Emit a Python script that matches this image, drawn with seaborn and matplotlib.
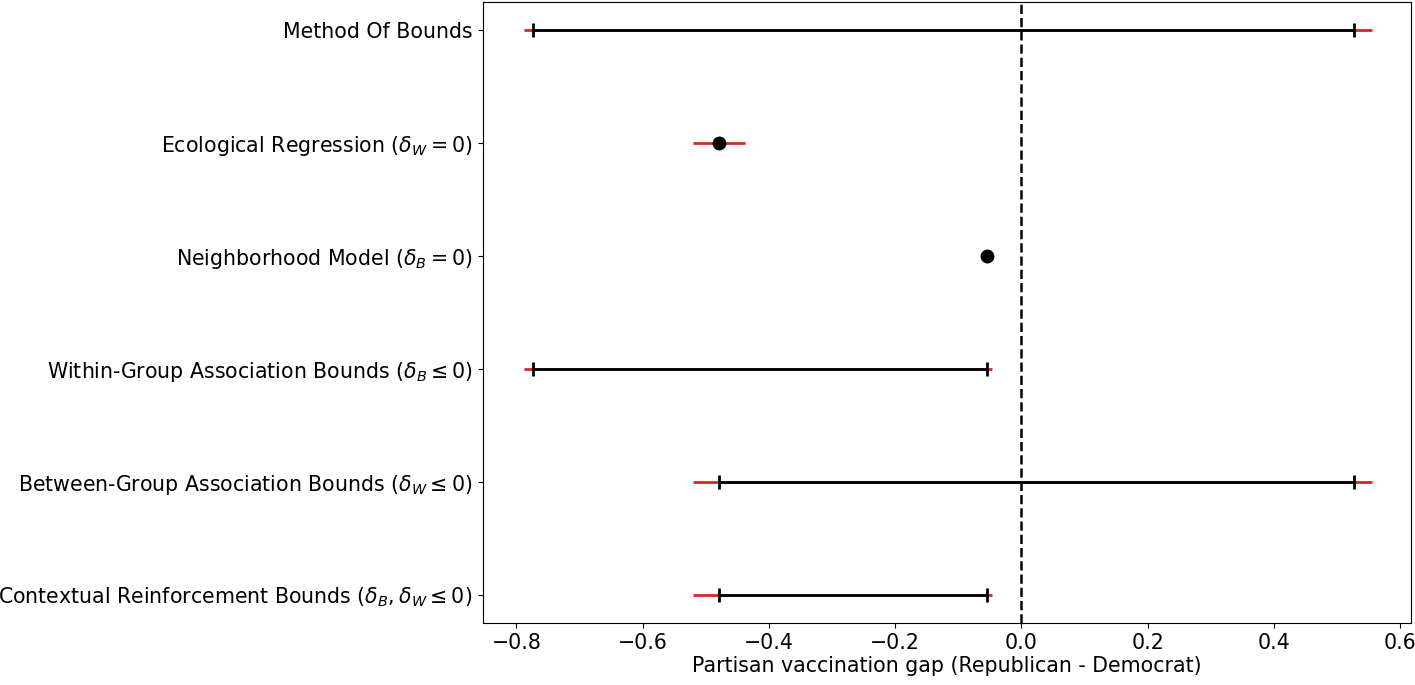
import matplotlib.pyplot as plt
import numpy as np
import pandas as pd
import seaborn as sns

# ── Data ────────────────────────────────────────────────────────────
methods = [
    "Method Of Bounds",
    r"Ecological Regression ($\delta_W = 0$)",
    r"Neighborhood Model ($\delta_B = 0$)",
    r"Within-Group Association Bounds ($\delta_B \leq 0$)",
    r"Between-Group Association Bounds ($\delta_W \leq 0$)",
    r"Contextual Reinforcement Bounds ($\delta_B, \delta_W \leq 0$)",
]
bound_low = [-0.773, np.nan, np.nan, -0.773, -0.479, -0.479]
bound_high = [0.527, np.nan, np.nan, -0.055, 0.527, -0.055]
point_est = [np.nan, -0.479, -0.0554, np.nan, np.nan, np.nan]
ci_low = [-0.788, -0.520, -0.058, -0.788, -0.520, -0.520]
ci_high = [0.555, -0.438, -0.053, -0.047, 0.555, -0.047]

_FS = 14.8

df = pd.DataFrame(
    {
        "method": methods,
        "low": bound_low,
        "high": bound_high,
        "point": point_est,
        "ci_low": ci_low,
        "ci_high": ci_high,
    }
)
df["pos"] = np.arange(len(df))

fig = plt.figure(figsize=(14.15, 6.85), dpi=100)
ax = fig.add_axes([0.3413, 0.0905, 0.6559, 0.9066])

# confidence band around each estimate (red, underneath)
ax.hlines(df["pos"], df["ci_low"], df["ci_high"], color="tab:red", linewidth=2, zorder=1)

# bounded intervals (black with caps)
bnd = df.dropna(subset=["low", "high"])
mid = (bnd["low"] + bnd["high"]) / 2
half = (bnd["high"] - bnd["low"]) / 2
ax.errorbar(
    mid,
    bnd["pos"],
    xerr=half,
    fmt="none",
    ecolor="black",
    elinewidth=2,
    capsize=4.8,
    capthick=2,
    zorder=2,
)

# point estimates
pts = df.dropna(subset=["point"])
sns.scatterplot(
    x=pts["point"],
    y=pts["pos"],
    color="black",
    s=100,
    linewidth=0,
    zorder=3,
    ax=ax,
)

ax.axvline(0, color="black", linestyle="--", linewidth=1.8, zorder=0)

ax.set_yticks(df["pos"])
ax.set_yticklabels(df["method"], fontsize=_FS)
ax.set_ylim(len(df) - 0.75, -0.25)
ax.set_xlim(-0.853, 0.617)
ax.set_xticks([-0.8, -0.6, -0.4, -0.2, 0.0, 0.2, 0.4, 0.6])
ax.tick_params(axis="x", labelsize=_FS)
ax.tick_params(axis="y", pad=4)
ax.set_xlabel("Partisan vaccination gap (Republican - Democrat)", fontsize=_FS, labelpad=2)
ax.set_ylabel("")

fig.savefig("out.png", dpi=100, facecolor="white")
